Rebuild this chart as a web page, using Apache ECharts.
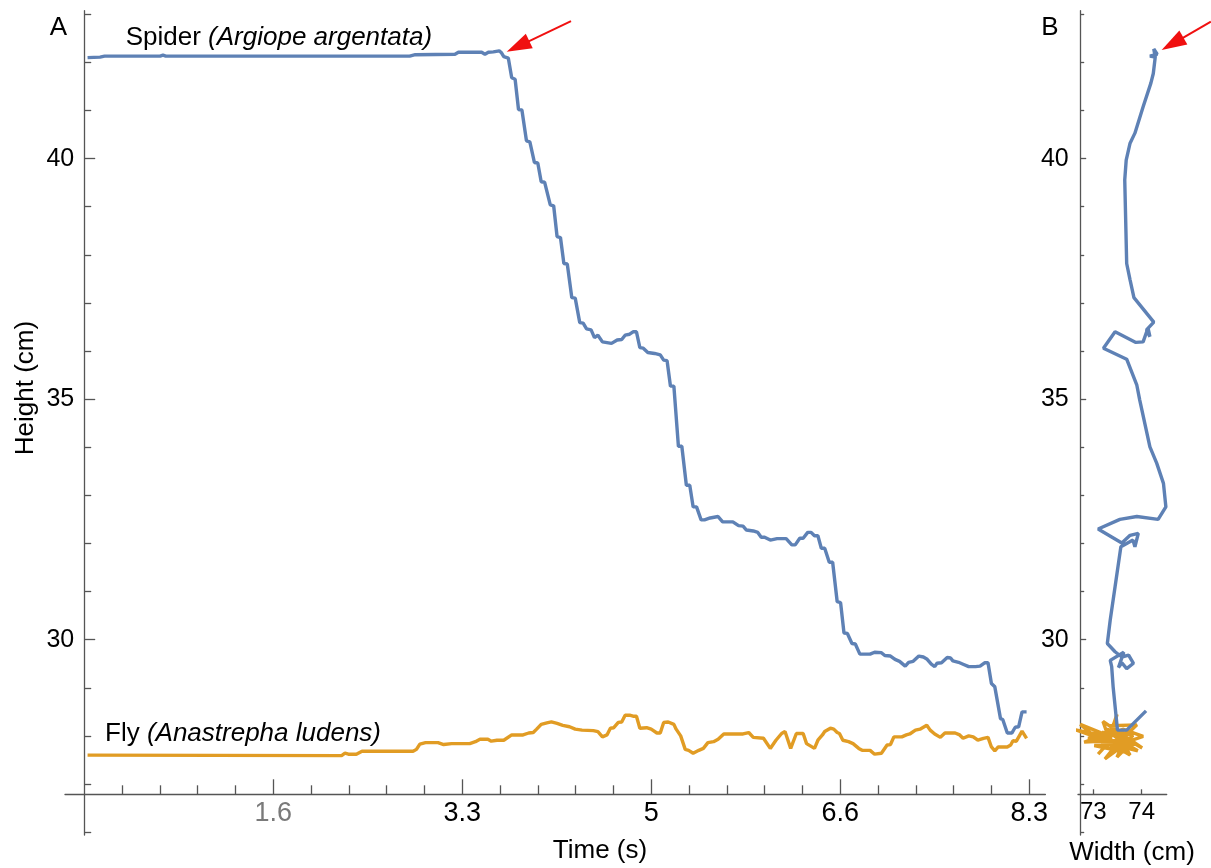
<!DOCTYPE html>
<html>
<head>
<meta charset="utf-8">
<title>Spider and fly height over time</title>
<script src="https://cdn.jsdelivr.net/npm/echarts@6/dist/echarts.min.js"></script>
<style>
  html, body { margin: 0; padding: 0; background: #fff; }
  #chart { width: 1211px; height: 868px; }
</style>
</head>
<body>
<div id="chart"></div>
<script>
// panel A: [time (s), height (cm)]
const spiderTrack = [
  [0.03, 42.10], [0.14, 42.11], [0.18, 42.13], [0.67, 42.13], [0.695, 42.15], [0.72, 42.13],
  [2.87, 42.13], [2.92, 42.16], [3.27, 42.17], [3.30, 42.21], [3.505, 42.21], [3.534, 42.17],
  [3.564, 42.21], [3.608, 42.22], [3.66, 42.24], [3.68, 42.20], [3.70, 42.12], [3.74, 42.09],
  [3.77, 41.68], [3.80, 41.65], [3.83, 41.02], [3.86, 41.01], [3.90, 40.37], [3.93, 40.35],
  [3.97, 39.92], [4.00, 39.91], [4.03, 39.52], [4.06, 39.51], [4.11, 39.04], [4.14, 39.02],
  [4.17, 38.38], [4.20, 38.36], [4.23, 37.82], [4.26, 37.81], [4.30, 37.11], [4.33, 37.10],
  [4.37, 36.59], [4.40, 36.58], [4.43, 36.46], [4.47, 36.44], [4.50, 36.28], [4.53, 36.33],
  [4.57, 36.19], [4.65, 36.16], [4.70, 36.23], [4.74, 36.24], [4.77, 36.33], [4.81, 36.35],
  [4.84, 36.40], [4.87, 36.40], [4.90, 36.07], [4.93, 36.06], [4.97, 35.97], [5.03, 35.95],
  [5.08, 35.92], [5.11, 35.81], [5.14, 35.80], [5.17, 35.27], [5.20, 35.27], [5.24, 34.02],
  [5.27, 34.02], [5.31, 33.21], [5.34, 33.21], [5.37, 32.76], [5.40, 32.76], [5.44, 32.49],
  [5.47, 32.49], [5.52, 32.53], [5.59, 32.56], [5.63, 32.45], [5.72, 32.45], [5.77, 32.37],
  [5.81, 32.36], [5.84, 32.28], [5.90, 32.26], [5.94, 32.23], [5.97, 32.13], [6.00, 32.13],
  [6.05, 32.07], [6.11, 32.10], [6.19, 32.10], [6.24, 31.97], [6.27, 31.97], [6.31, 32.11],
  [6.34, 32.11], [6.38, 32.23], [6.41, 32.23], [6.44, 32.16], [6.47, 32.16], [6.50, 31.90],
  [6.53, 31.90], [6.57, 31.61], [6.60, 31.61], [6.64, 30.79], [6.67, 30.77], [6.70, 30.14],
  [6.73, 30.13], [6.77, 29.92], [6.80, 29.91], [6.84, 29.70], [6.93, 29.70], [6.97, 29.74],
  [7.03, 29.73], [7.06, 29.67], [7.11, 29.66], [7.15, 29.59], [7.19, 29.55], [7.24, 29.45],
  [7.27, 29.53], [7.31, 29.55], [7.36, 29.66], [7.40, 29.64], [7.43, 29.60], [7.47, 29.49],
  [7.50, 29.44], [7.52, 29.51], [7.56, 29.52], [7.61, 29.63], [7.64, 29.62], [7.66, 29.56],
  [7.71, 29.53], [7.75, 29.49], [7.80, 29.44], [7.86, 29.44], [7.90, 29.45], [7.94, 29.52],
  [7.97, 29.52], [8.00, 29.09], [8.03, 29.02], [8.08, 28.36], [8.10, 28.34], [8.14, 28.06],
  [8.18, 28.06], [8.21, 28.18], [8.24, 28.19], [8.27, 28.50], [8.31, 28.50]
]

const flyTrack = [
  [0.03, 27.60], [2.27, 27.59], [2.30, 27.64], [2.33, 27.62], [2.40, 27.62], [2.45, 27.68],
  [2.90, 27.68], [2.93, 27.72], [2.96, 27.83], [3.01, 27.86], [3.12, 27.86], [3.17, 27.82],
  [3.24, 27.84], [3.40, 27.84], [3.45, 27.88], [3.49, 27.93], [3.56, 27.93], [3.59, 27.89],
  [3.64, 27.91], [3.70, 27.91], [3.77, 28.02], [3.87, 28.02], [3.92, 28.06], [3.96, 28.07],
  [3.99, 28.14], [4.03, 28.24], [4.08, 28.27], [4.12, 28.29], [4.17, 28.26], [4.22, 28.22],
  [4.28, 28.19], [4.33, 28.14], [4.39, 28.12], [4.49, 28.11], [4.53, 28.09], [4.57, 27.98],
  [4.61, 28.02], [4.64, 28.16], [4.67, 28.17], [4.71, 28.28], [4.74, 28.29], [4.77, 28.43],
  [4.81, 28.43], [4.84, 28.41], [4.87, 28.41], [4.90, 28.16], [4.96, 28.17], [5.00, 28.14],
  [5.05, 28.06], [5.08, 28.06], [5.11, 28.28], [5.15, 28.29], [5.20, 28.24], [5.22, 28.14],
  [5.26, 28.00], [5.30, 27.72], [5.33, 27.70], [5.37, 27.64], [5.42, 27.70], [5.46, 27.74],
  [5.50, 27.86], [5.55, 27.88], [5.59, 27.93], [5.64, 28.04], [5.81, 28.04], [5.86, 28.07],
  [5.90, 27.97], [5.99, 27.95], [6.05, 27.74], [6.10, 27.91], [6.15, 28.05], [6.18, 28.09],
  [6.23, 27.74], [6.28, 28.05], [6.34, 28.05], [6.37, 27.84], [6.44, 27.74], [6.47, 27.91],
  [6.51, 28.02], [6.53, 28.09], [6.58, 28.16], [6.61, 28.14], [6.64, 28.07], [6.66, 28.05],
  [6.69, 27.91], [6.74, 27.88], [6.78, 27.84], [6.83, 27.74], [6.86, 27.70], [6.93, 27.70],
  [6.97, 27.62], [7.03, 27.64], [7.08, 27.81], [7.11, 27.82], [7.14, 27.98], [7.21, 27.98],
  [7.25, 28.02], [7.28, 28.04], [7.33, 28.12], [7.37, 28.14], [7.43, 28.22], [7.46, 28.12],
  [7.50, 28.04], [7.55, 27.97], [7.59, 28.06], [7.68, 28.06], [7.72, 28.02], [7.75, 27.95],
  [7.80, 28.00], [7.84, 27.98], [7.88, 27.91], [7.93, 27.95], [7.97, 27.97], [8.00, 27.77],
  [8.03, 27.69], [8.06, 27.77], [8.14, 27.77], [8.17, 27.81], [8.19, 27.90], [8.22, 27.89],
  [8.27, 28.10], [8.31, 27.95]
]

// panel B: [width (cm), height (cm)]
const spiderPath = [
  [74.28, 42.11], [74.17, 42.13], [74.32, 42.17], [74.25, 42.28], [74.28, 42.11], [74.24, 41.77],
  [74.19, 41.57], [74.03, 41.08], [73.86, 40.53], [73.76, 40.32], [73.68, 39.97], [73.65, 39.56],
  [73.69, 37.82], [73.76, 37.48], [73.84, 37.11], [74.25, 36.60], [74.10, 36.44], [74.17, 36.30],
  [74.13, 36.48], [74.03, 36.19], [73.88, 36.18], [73.45, 36.40], [73.21, 36.06], [73.69, 35.83],
  [73.90, 35.29], [73.96, 34.98], [74.17, 34.01], [74.31, 33.67], [74.45, 33.25], [74.50, 32.76],
  [74.34, 32.50], [73.90, 32.56], [73.55, 32.50], [73.10, 32.30], [73.59, 32.01], [73.76, 32.17],
  [73.93, 32.21], [73.86, 31.93], [73.82, 32.07], [73.57, 31.93], [73.45, 31.10], [73.35, 30.41],
  [73.29, 29.92], [73.45, 29.75], [73.59, 29.64], [73.73, 29.68], [73.83, 29.51], [73.69, 29.40],
  [73.59, 29.52], [73.52, 29.42], [73.63, 29.74], [73.35, 29.57], [73.38, 29.44], [73.41, 29.02],
  [73.50, 28.12], [73.69, 28.12], [74.09, 28.52]
]

const flyPath = [
  [73.10, 27.62], [73.26, 27.80], [72.73, 28.24], [73.39, 27.97], [72.62, 28.13], [73.30, 27.89],
  [73.49, 28.45], [73.39, 28.05], [72.81, 27.87], [73.55, 27.91], [73.24, 27.52], [73.63, 27.81],
  [73.06, 28.02], [73.76, 27.60], [73.51, 28.04], [74.01, 27.75], [73.35, 28.21], [73.90, 28.23],
  [73.45, 27.79], [74.03, 27.99], [73.61, 28.14], [73.12, 27.88], [73.80, 27.87], [73.49, 27.56],
  [73.70, 28.05], [72.89, 27.95], [73.92, 27.69], [73.57, 27.89], [73.26, 28.14], [73.82, 28.01],
  [73.53, 27.75], [73.63, 27.95], [73.18, 28.08], [73.68, 27.66], [73.02, 27.80], [73.86, 27.83],
  [73.41, 27.70], [73.20, 28.30], [73.74, 27.93], [73.33, 27.84]
]

// axis ticks
const timeTicks = [5 / 3, 10 / 3, 5, 20 / 3, 25 / 3]
const timeTickLabels = ['1.6', '3.3', '5', '6.6', '8.3']
const timeMinorTicks = [1, 2, 3, 4, 6, 7, 8, 9, 11, 12, 13, 14, 16, 17, 18, 19, 21, 22, 23, 24].map(k => k / 3)
const heightTicks = [30, 35, 40]
const heightMinorTicks = [26, 27, 28, 29, 31, 32, 33, 34, 36, 37, 38, 39, 41, 42, 43]
const widthTicks = [73, 74]

// red arrows: [tail, tip]
const arrowA = [[4.293, 42.86], [3.726, 42.22]]
const arrowB = [[75.43, 42.846], [74.413, 42.258]]

const axisColor = '#555'
const font = '"Liberation Sans", Arial, sans-serif'
const spiderColor = '#5E81B5'
const flyColor = '#E19C24'

const chart = echarts.init(document.getElementById('chart'))

function tickAxis(extra) {
  return Object.assign({
    type: 'value',
    splitLine: { show: false },
    axisLine: { show: false, onZero: false },
    axisLabel: { show: false },
    axisPointer: { show: false }
  }, extra)
}

chart.setOption({
  animation: false,
  backgroundColor: '#fff',
  grid: [
    { left: 65, right: 165.6, top: 10.7, bottom: 33, containLabel: false, outerBoundsMode: 'none' },
    { left: 1078, right: 44.3, top: 10.7, bottom: 33, containLabel: false, outerBoundsMode: 'none' }
  ],
  xAxis: [
    tickAxis({
      gridIndex: 0, min: -0.169, max: 8.476, position: 'bottom', offset: -40.7,
      axisLine: { show: true, onZero: false, lineStyle: { color: axisColor, width: 1.3 } },
      axisTick: { show: true, inside: true, length: 15, customValues: timeTicks, lineStyle: { color: axisColor, width: 1.3 } },
      axisLabel: {
        show: true, customValues: timeTicks, margin: 6, fontSize: 27, fontFamily: font,
        formatter: v => timeTickLabels[timeTicks.findIndex(t => Math.abs(t - v) < 1e-6)],
        color: v => (Math.abs(parseFloat(v) - timeTicks[0]) < 1e-6 ? '#7a7a7a' : '#000')
      }
    }),
    tickAxis({
      gridIndex: 0, min: -0.169, max: 8.476, position: 'bottom', offset: -40.7,
      axisTick: { show: true, inside: true, length: 9, customValues: timeMinorTicks, lineStyle: { color: axisColor, width: 1.3 } }
    }),
    tickAxis({
      gridIndex: 1, min: 72.684, max: 74.517, position: 'bottom', offset: -40.7,
      axisLine: { show: true, onZero: false, lineStyle: { color: axisColor, width: 1.3 } },
      axisTick: { show: true, inside: true, length: 5, customValues: widthTicks, lineStyle: { color: axisColor, width: 1.3 } },
      axisLabel: { show: true, customValues: widthTicks, margin: 6, fontSize: 24, fontFamily: font, color: '#000' }
    })
  ],
  yAxis: [
    tickAxis({
      gridIndex: 0, min: 25.94, max: 43.075, position: 'left', offset: -19.2,
      axisLine: { show: true, onZero: false, lineStyle: { color: axisColor, width: 1.3 } },
      axisTick: { show: true, inside: true, length: 11, customValues: heightTicks, lineStyle: { color: axisColor, width: 1.3 } },
      axisLabel: { show: true, customValues: heightTicks, margin: 10, fontSize: 25, fontFamily: font, color: '#000' }
    }),
    tickAxis({
      gridIndex: 0, min: 25.94, max: 43.075, position: 'left', offset: -19.2,
      axisTick: { show: true, inside: true, length: 7, customValues: heightMinorTicks, lineStyle: { color: axisColor, width: 1.3 } }
    }),
    tickAxis({
      gridIndex: 1, min: 25.94, max: 43.075, position: 'left', offset: -2.7,
      axisLine: { show: true, onZero: false, lineStyle: { color: axisColor, width: 1.3 } },
      axisTick: { show: true, inside: true, length: 5.5, customValues: heightTicks, lineStyle: { color: axisColor, width: 1.3 } },
      axisLabel: { show: true, customValues: heightTicks, margin: 12, fontSize: 25, fontFamily: font, color: '#000' }
    }),
    tickAxis({
      gridIndex: 1, min: 25.94, max: 43.075, position: 'left', offset: -2.7,
      axisTick: { show: true, inside: true, length: 3.5, customValues: heightMinorTicks, lineStyle: { color: axisColor, width: 1.3 } }
    })
  ],
  series: [
    { name: 'Spider', type: 'line', xAxisIndex: 0, yAxisIndex: 0, data: spiderTrack, showSymbol: false, clip: false,
      lineStyle: { color: spiderColor, width: 3.4 }, itemStyle: { color: spiderColor } },
    { name: 'Fly', type: 'line', xAxisIndex: 0, yAxisIndex: 0, data: flyTrack, showSymbol: false, clip: false,
      lineStyle: { color: flyColor, width: 3.4 }, itemStyle: { color: flyColor } },
    { name: 'Fly path', type: 'line', xAxisIndex: 2, yAxisIndex: 2, data: flyPath, showSymbol: false, clip: false,
      lineStyle: { color: flyColor, width: 3.4 }, itemStyle: { color: flyColor } },
    { name: 'Spider path', type: 'line', xAxisIndex: 2, yAxisIndex: 2, data: spiderPath, showSymbol: false, clip: false,
      lineStyle: { color: spiderColor, width: 3.4 }, itemStyle: { color: spiderColor } }
  ]
})

// arrow drawn from data coords of its grid
function arrow(axisIdx, pts) {
  const p0 = chart.convertToPixel({ xAxisIndex: axisIdx, yAxisIndex: axisIdx }, pts[0])
  const p1 = chart.convertToPixel({ xAxisIndex: axisIdx, yAxisIndex: axisIdx }, pts[1])
  const dx = p1[0] - p0[0]
  const dy = p1[1] - p0[1]
  const len = Math.hypot(dx, dy)
  const ux = dx / len
  const uy = dy / len
  const headLen = 25
  const half = 8
  const bx = p1[0] - ux * headLen
  const by = p1[1] - uy * headLen
  return [
    { type: 'line', shape: { x1: p0[0], y1: p0[1], x2: bx + ux * 3, y2: by + uy * 3 }, style: { stroke: '#f01010', lineWidth: 2 } },
    { type: 'polygon', shape: { points: [p1, [bx - uy * half, by + ux * half], [bx + uy * half, by - ux * half]] }, style: { fill: '#f01010' } }
  ]
}

function label(x, y, text, opts) {
  return {
    type: 'text', x: x, y: y,
    style: Object.assign({
      text: text, fontSize: 26, fontFamily: font, fill: '#000', align: 'center', verticalAlign: 'middle',
      rich: { i: { fontStyle: 'italic', fontSize: 26, fontFamily: font, fill: '#000' } }
    }, opts || {})
  }
}

chart.setOption({
  graphic: [
    label(58.5, 28, 'A'),
    label(1050, 27.5, 'B'),
    label(125.7, 38, 'Spider {i|(Argiope argentata)}', { align: 'left' }),
    label(105, 734, 'Fly {i|(Anastrepha ludens)}', { align: 'left' }),
    label(600, 851, 'Time (s)'),
    label(1132, 853, 'Width (cm)'),
    Object.assign(label(0, 0, 'Height (cm)'), { x: 26, y: 388, rotation: Math.PI / 2 }),
    ...arrow(0, arrowA),
    ...arrow(2, arrowB)
  ]
})
</script>
</body>
</html>
